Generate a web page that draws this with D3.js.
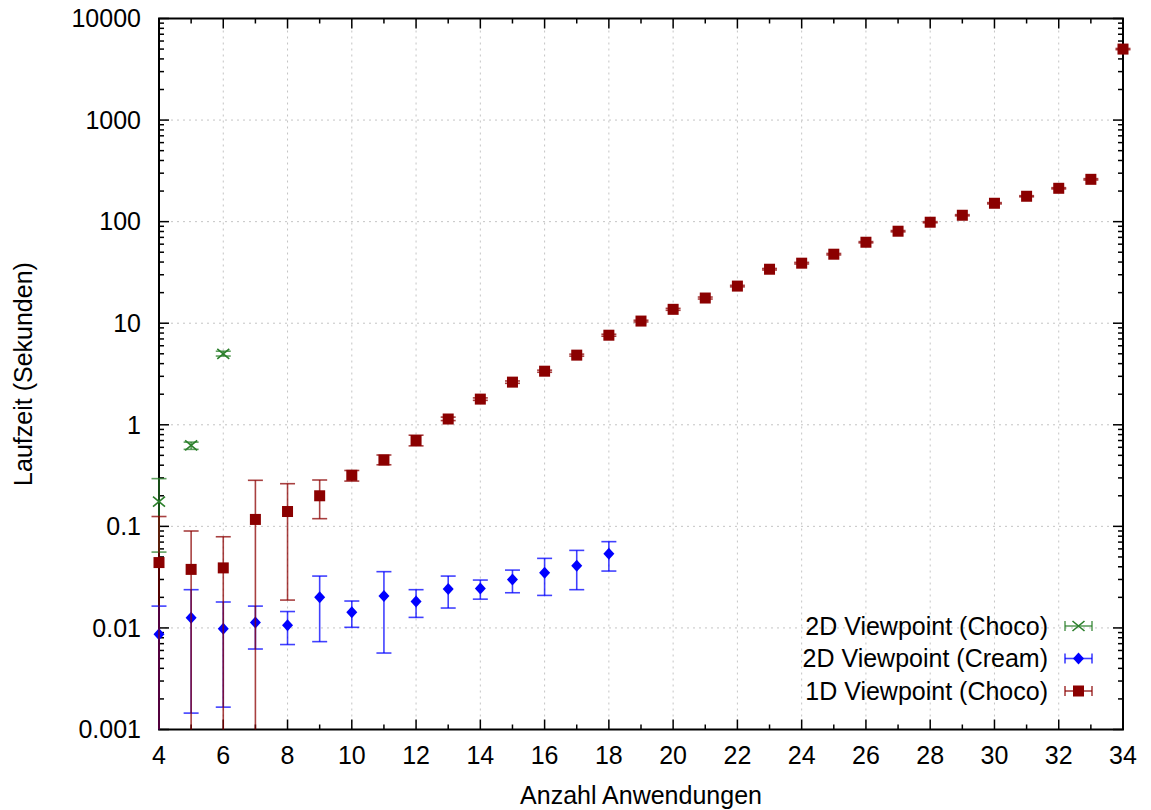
<!DOCTYPE html>
<html>
<head>
<meta charset="utf-8">
<script src="https://cdn.jsdelivr.net/npm/d3@7"></script>
<style>
  body { margin: 0; background: #fff; }
  text { font-family: "Liberation Sans", Arial, sans-serif; fill: #000; font-size: 25px; }
</style>
</head>
<body>
<svg id="chart" width="1151" height="810"></svg>
<script>
// 2D Viewpoint (Choco)
const greenX  = [4, 5, 6];
const greenY  = [0.175, 0.627, 5.0];
const greenLo = [0.0558, 0.573, 4.75];
const greenHi = [0.295, 0.675, 5.3];

// 2D Viewpoint (Cream)
const blueX  = [4, 5, 6, 7, 8, 9, 10, 11, 12, 13, 14, 15, 16, 17, 18];
const blueY  = [0.00865, 0.0126, 0.00984, 0.0113, 0.0106, 0.020, 0.01425, 0.0206, 0.0182, 0.0242, 0.0244, 0.0299, 0.035, 0.041, 0.0538];
const blueLo = [0.0008, 0.00145, 0.00166, 0.0062, 0.00686, 0.00733, 0.01014, 0.00566, 0.0127, 0.0157, 0.0192, 0.0222, 0.0209, 0.0238, 0.0363];
const blueHi = [0.0164, 0.0238, 0.018, 0.0164, 0.0145, 0.0324, 0.0184, 0.0358, 0.0238, 0.0324, 0.0296, 0.0371, 0.0484, 0.058, 0.0707];

// 1D Viewpoint (Choco)
const redX  = [4, 5, 6, 7, 8, 9, 10, 11, 12, 13, 14, 15, 16, 17, 18, 19, 20, 21, 22, 23, 24, 25, 26, 27, 28, 29, 30, 31, 32, 33, 34];
const redY  = [0.044, 0.0377, 0.039, 0.117, 0.14, 0.2, 0.318, 0.45, 0.70, 1.14, 1.79, 2.63, 3.37, 4.85, 7.62, 10.5, 13.7, 17.7, 23.2, 34.0, 39.0, 47.8, 62.7, 80.5, 98.7, 115.6, 151.7, 177.8, 213, 261, 5000];
const redLo = [0.0005, 0.0005, 0.0005, 0.0005, 0.0188, 0.119, 0.279, 0.404, 0.62, 1.10, 1.74, 2.56, 3.29, 4.74, 7.45, 10.3, 13.4, 17.3, 22.8, 33.4, 38.3, 47.0, 61.8, 79.3, 97.4, 114, 149.5, 175.5, 210, 257, 4930];
const redHi = [0.125, 0.09, 0.079, 0.284, 0.263, 0.286, 0.355, 0.504, 0.79, 1.19, 1.84, 2.70, 3.45, 4.96, 7.79, 10.7, 14.0, 18.1, 23.6, 34.6, 39.7, 48.6, 63.6, 81.7, 100, 117.2, 153.9, 180.1, 216, 265, 5070];

const xTicks = [4, 6, 8, 10, 12, 14, 16, 18, 20, 22, 24, 26, 28, 30, 32, 34];
const yTicks = [0.001, 0.01, 0.1, 1, 10, 100, 1000, 10000];
const yTickLabels = ["0.001", "0.01", "0.1", "1", "10", "100", "1000", "10000"];

const legendNames = ["2D Viewpoint (Choco)", "2D Viewpoint (Cream)", "1D Viewpoint (Choco)"];

const svg = d3.select("#chart");
const mLeft = 159, mRight = 1123, mTop = 18.5, mBottom = 729.5;

const x = d3.scaleLinear().domain([4, 34]).range([mLeft, mRight]);
const y = d3.scaleLog().domain([0.001, 10000]).range([mBottom, mTop]);

const colors = { green: "#2a7f2a", blue: "#0000ff", red: "#8b0000" };

// grid
const grid = svg.append("g").attr("stroke", "#c4c4c4").attr("stroke-width", 1)
  .attr("stroke-dasharray", "2,4");
grid.selectAll("line.gx").data(xTicks.slice(1, -1)).enter().append("line")
  .attr("x1", d => x(d)).attr("x2", d => x(d)).attr("y1", mTop).attr("y2", mBottom);
grid.selectAll("line.gy").data(yTicks.slice(1, -1)).enter().append("line")
  .attr("x1", mLeft).attr("x2", mRight).attr("y1", d => y(d)).attr("y2", d => y(d));

// ticks
const minorY = [];
yTicks.slice(0, -1).forEach(t => { for (let k = 2; k < 10; k++) minorY.push(t * k); });
const minorX = [];
for (let i = 0; i < xTicks.length - 1; i++) minorX.push((xTicks[i] + xTicks[i + 1]) / 2);

const ticks = svg.append("g").attr("stroke", "#000").attr("stroke-width", 1.5);
[[mBottom, -1], [mTop, 1]].forEach(([yy, dir]) => {
  ticks.selectAll(null).data(xTicks).enter().append("line")
    .attr("x1", d => x(d)).attr("x2", d => x(d)).attr("y1", yy).attr("y2", yy + dir * 10);
  ticks.selectAll(null).data(minorX).enter().append("line")
    .attr("x1", d => x(d)).attr("x2", d => x(d)).attr("y1", yy).attr("y2", yy + dir * 5);
});
[[mLeft, 1], [mRight, -1]].forEach(([xx, dir]) => {
  ticks.selectAll(null).data(yTicks).enter().append("line")
    .attr("x1", xx).attr("x2", xx + dir * 10).attr("y1", d => y(d)).attr("y2", d => y(d));
  ticks.selectAll(null).data(minorY).enter().append("line")
    .attr("x1", xx).attr("x2", xx + dir * 5).attr("y1", d => y(d)).attr("y2", d => y(d));
});

// tick labels
svg.append("g").selectAll("text").data(xTicks).enter().append("text")
  .attr("x", d => x(d)).attr("y", mBottom + 34)
  .attr("text-anchor", "middle").text(d => d);
svg.append("g").selectAll("text").data(yTicks).enter().append("text")
  .attr("x", mLeft - 18).attr("y", d => y(d)).attr("dy", "0.35em")
  .attr("text-anchor", "end").text((d, i) => yTickLabels[i]);

// axis titles
svg.append("text").attr("x", (mLeft + mRight) / 2).attr("y", 804)
  .attr("text-anchor", "middle").text("Anzahl Anwendungen");
svg.append("text").attr("transform", `translate(32,${(mTop + mBottom) / 2}) rotate(-90)`)
  .attr("text-anchor", "middle").text("Laufzeit (Sekunden)");

// series
const capW = 7.5;

function errorBars(g, xs, ys, lo, hi, color) {
  const bars = g.append("g").attr("stroke", color).attr("stroke-width", 1.6).attr("stroke-opacity", 0.75);
  xs.forEach((xv, i) => {
    const px = x(xv);
    const yl = y(Math.max(lo[i], 0.001));
    bars.append("line").attr("x1", px).attr("x2", px).attr("y1", yl).attr("y2", y(hi[i]));
    bars.append("line").attr("x1", px - capW).attr("x2", px + capW).attr("y1", y(hi[i])).attr("y2", y(hi[i]));
    if (lo[i] >= 0.001)
      bars.append("line").attr("x1", px - capW).attr("x2", px + capW).attr("y1", y(lo[i])).attr("y2", y(lo[i]));
  });
}

function crossMark(g, px, py, color) {
  g.append("path").attr("d", `M${px - 6},${py - 5}L${px + 6},${py + 5}M${px - 6},${py + 5}L${px + 6},${py - 5}`)
    .attr("stroke", color).attr("stroke-width", 1.6).attr("fill", "none");
}
function diamondMark(g, px, py, color) {
  g.append("path").attr("d", `M${px},${py - 6}L${px + 5.5},${py}L${px},${py + 6}L${px - 5.5},${py}Z`)
    .attr("fill", color);
}
function squareMark(g, px, py, color) {
  g.append("rect").attr("x", px - 5.5).attr("y", py - 5.5).attr("width", 11).attr("height", 11)
    .attr("fill", color);
}

// border first, then the series over it
svg.append("rect").attr("x", mLeft).attr("y", mTop).attr("width", mRight - mLeft).attr("height", mBottom - mTop)
  .attr("fill", "none").attr("stroke", "#000").attr("stroke-width", 2);

const gGreen = svg.append("g");
errorBars(gGreen, greenX, greenY, greenLo, greenHi, colors.green);
greenX.forEach((xv, i) => crossMark(gGreen, x(xv), y(greenY[i]), colors.green));

const gBlue = svg.append("g");
errorBars(gBlue, blueX, blueY, blueLo, blueHi, colors.blue);
blueX.forEach((xv, i) => diamondMark(gBlue, x(xv), y(blueY[i]), colors.blue));

const gRed = svg.append("g");
errorBars(gRed, redX, redY, redLo, redHi, colors.red);
redX.forEach((xv, i) => squareMark(gRed, x(xv), y(redY[i]), colors.red));

// legend
const legend = svg.append("g");
const markers = [crossMark, diamondMark, squareMark];
const legColors = [colors.green, colors.blue, colors.red];
legendNames.forEach((name, i) => {
  const ly = 626 + i * 32.5;
  legend.append("text").attr("x", 1048).attr("y", ly).attr("dy", "0.35em")
    .attr("text-anchor", "end").text(name);
  const s = legend.append("g").attr("stroke", legColors[i]).attr("stroke-width", 1.6).attr("stroke-opacity", 0.75);
  s.append("line").attr("x1", 1065).attr("x2", 1092).attr("y1", ly).attr("y2", ly);
  s.append("line").attr("x1", 1065).attr("x2", 1065).attr("y1", ly - 5).attr("y2", ly + 5);
  s.append("line").attr("x1", 1092).attr("x2", 1092).attr("y1", ly - 5).attr("y2", ly + 5);
  markers[i](legend, 1078.5, ly, legColors[i]);
});
</script>
</body>
</html>
